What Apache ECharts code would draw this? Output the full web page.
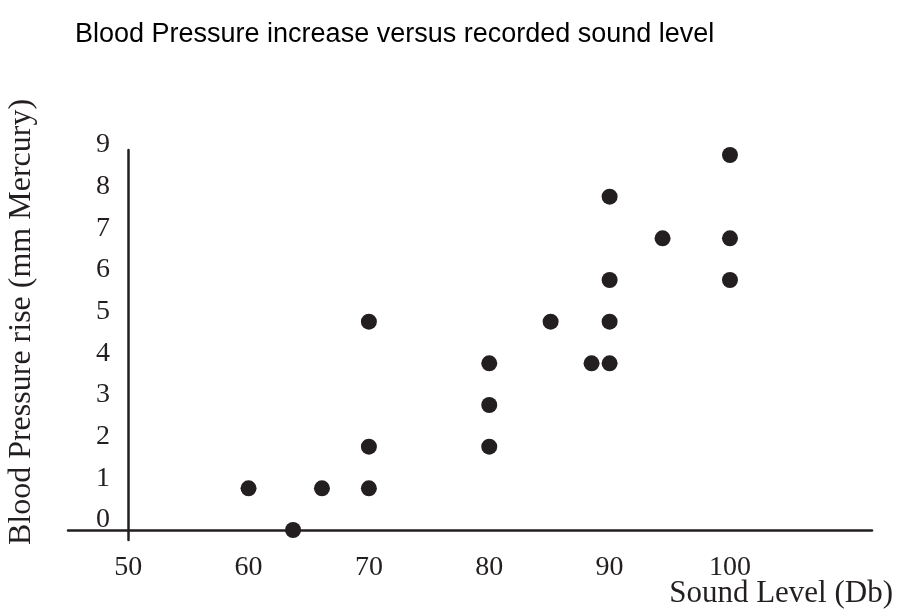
<!DOCTYPE html>
<html>
<head>
<meta charset="utf-8">
<script src="https://cdn.jsdelivr.net/npm/echarts@6/dist/echarts.min.js"></script>
<style>
  html, body { margin: 0; padding: 0; background: #fff; }
  #main { width: 897px; height: 612px; }
</style>
</head>
<body>
<div id="main"></div>
<script>
// sound level (Db) and blood pressure rise (mm Mercury)
const soundLevel = [60, 63.7, 66.1, 70, 70, 70, 80, 80, 80, 85.1, 88.5, 90, 90, 90, 90, 94.4, 100, 100, 100];
const pressureRise = [1, 0, 1, 1, 2, 5, 2, 3, 4, 5, 4, 4, 5, 6, 8, 7, 6, 7, 9];
const xTicks = [50, 60, 70, 80, 90, 100];
const yTicks = [0, 1, 2, 3, 4, 5, 6, 7, 8, 9];

const ink = '#231f20';
const serif = '"Liberation Serif", "DejaVu Serif", serif';

let points = soundLevel.map((x, i) => [x, pressureRise[i]]);

let chart = echarts.init(document.getElementById('main'));
let option = {
  animation: false,
  title: {
    text: 'Blood Pressure increase versus recorded sound level',
    left: 70,
    top: 16,
    textStyle: { fontFamily: '"Liberation Sans", sans-serif', fontWeight: 'normal', fontSize: 27, color: '#000' }
  },
  grid: { left: 68, right: 25, top: 150, bottom: 72, outerBoundsMode: 'none' },
  xAxis: {
    type: 'value',
    min: 45,
    max: 111.8,
    splitLine: { show: false },
    axisTick: { show: false },
    axisLine: { onZero: true, lineStyle: { color: ink, width: 2.5 } },
    axisLabel: {
      customValues: xTicks,
      margin: 14,
      fontFamily: serif,
      fontSize: 28,
      color: ink
    },
    name: 'Sound Level (Db)',
    nameLocation: 'end',
    nameGap: 21,
    nameMoveOverlap: false,
    nameTextStyle: {
      fontFamily: serif,
      fontSize: 31,
      color: ink,
      align: 'right',
      verticalAlign: 'top',
      padding: [48, 0, 0, 0]
    }
  },
  yAxis: {
    type: 'value',
    min: -0.24,
    max: 9.12,
    offset: -60,
    splitLine: { show: false },
    axisTick: { show: false },
    axisLine: { lineStyle: { color: ink, width: 2.5 } },
    axisLabel: {
      customValues: yTicks,
      margin: 18,
      verticalAlign: 'bottom',
      lineHeight: 20,
      fontFamily: serif,
      fontSize: 28,
      color: ink
    },
    name: 'Blood Pressure rise (mm Mercury)',
    nameLocation: 'middle',
    nameGap: 90,
    nameMoveOverlap: false,
    nameTextStyle: {
      fontFamily: serif,
      fontSize: 32,
      color: ink,
      padding: [0, 0, 0, 46]
    }
  },
  series: [
    {
      type: 'scatter',
      data: points,
      symbolSize: 16,
      itemStyle: { color: ink, opacity: 1 }
    }
  ]
};
chart.setOption(option);
</script>
</body>
</html>
